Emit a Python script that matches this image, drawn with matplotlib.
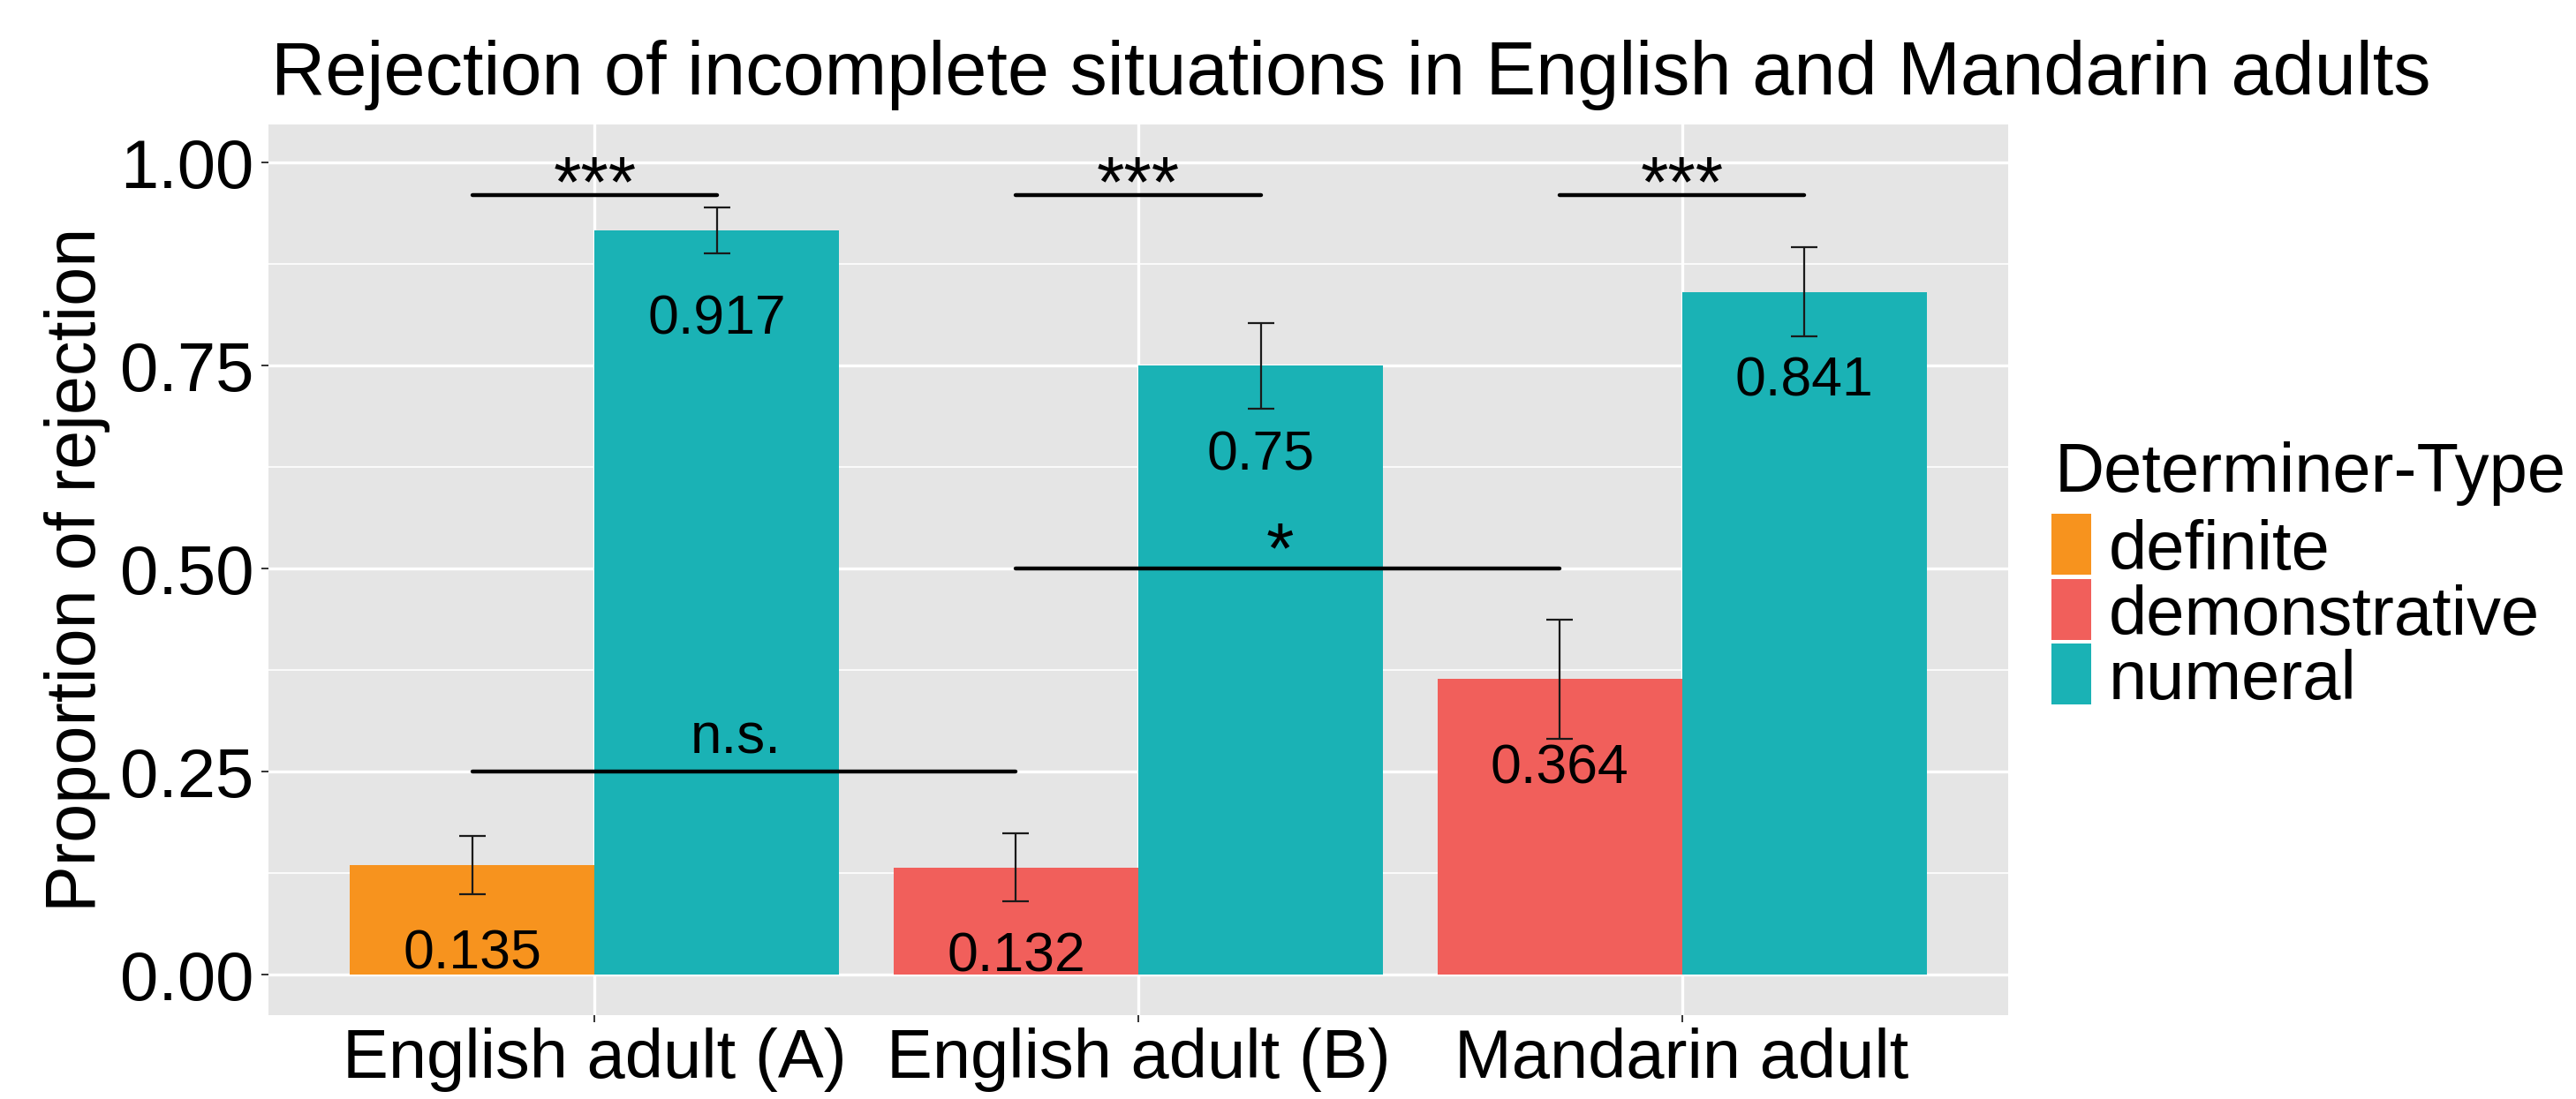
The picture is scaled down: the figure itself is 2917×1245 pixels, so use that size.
import matplotlib
matplotlib.use("Agg")
import matplotlib.pyplot as plt
from matplotlib.patches import Rectangle
import numpy as np

plt.rcParams['font.family'] = ['Liberation Sans', 'DejaVu Sans']

# ---------------- data ----------------
groups = ["English adult (A)", "English adult (B)", "Mandarin adult"]
det_types = ["definite", "demonstrative", "numeral"]
type_colors = ["#F7931E", "#F15F5B", "#1AB2B5"]

first_type = ["definite", "demonstrative", "demonstrative"]
first_vals = [0.135, 0.132, 0.364]
first_err = [0.036, 0.042, 0.073]
first_labels = ["0.135", "0.132", "0.364"]

numeral_vals = [0.917, 0.75, 0.841]
numeral_err = [0.028, 0.053, 0.055]
numeral_labels = ["0.917", "0.75", "0.841"]

within_sig = ["***", "***", "***"]
within_sig_y = 0.96
between_sig = ["n.s.", "*"]
between_sig_y = [0.25, 0.50]

yticks = [0.00, 0.25, 0.50, 0.75, 1.00]
ytick_labels = ["0.00", "0.25", "0.50", "0.75", "1.00"]

title = "Rejection of incomplete situations in English and Mandarin adults"
ylabel = "Proportion of rejection"
legend_title = "Determiner-Type"

# ---------------- figure ----------------
W, H = 2917, 1245
fig = plt.figure(figsize=(W / 100, H / 100), dpi=100)
ax = fig.add_axes([304 / W, 1 - 1150 / H, (2274 - 304) / W, (1150 - 141) / H])
ax.set_facecolor("#E5E5E5")
for s in ax.spines.values():
    s.set_visible(False)

color_of = dict(zip(det_types, type_colors))
x = np.arange(1, len(groups) + 1)
bw = 0.45

ax.bar(x - bw / 2, first_vals, width=bw, color=[color_of[t] for t in first_type], zorder=2)
ax.bar(x + bw / 2, numeral_vals, width=bw, color=color_of["numeral"], zorder=2)

ekw = dict(fmt="none", ecolor="#1a1a1a", elinewidth=1.6, capsize=11, capthick=1.6, zorder=3)
ax.errorbar(x - bw / 2, first_vals, yerr=first_err, **ekw)
ax.errorbar(x + bw / 2, numeral_vals, yerr=numeral_err, **ekw)

for xi, v, lab in zip(x - bw / 2, first_vals, first_labels):
    ax.text(xi, v - 0.128, lab, ha="center", va="baseline", fontsize=45, zorder=4)
for xi, v, lab in zip(x + bw / 2, numeral_vals, numeral_labels):
    ax.text(xi, v - 0.128, lab, ha="center", va="baseline", fontsize=45, zorder=4)

# significance: within group (first bar vs numeral)
for xi, lab in zip(x, within_sig):
    ax.plot([xi - bw / 2, xi + bw / 2], [within_sig_y, within_sig_y], color="black",
            lw=3.2, solid_capstyle="round", zorder=4)
    ax.text(xi, within_sig_y - 0.0133, lab, ha="center", va="baseline", fontsize=58, zorder=4)

# significance: between neighbouring groups' first bars
for k, (lab, yv) in enumerate(zip(between_sig, between_sig_y)):
    x0 = x[k] - bw / 2
    x1 = x[k + 1] - bw / 2
    ax.plot([x0, x1], [yv, yv], color="black", lw=3.2, solid_capstyle="round", zorder=4)
    if lab == "*":
        ax.text((x0 + x1) / 2 - 0.015, yv - 0.0043, lab, ha="center", va="baseline",
                fontsize=58, zorder=4)
    else:
        ax.text((x0 + x1) / 2 - 0.015, yv + 0.023, lab, ha="center", va="baseline",
                fontsize=46, zorder=4)

ax.set_xlim(0.4, 3.6)
ax.set_ylim(-0.0497, 1.0472)
ax.set_yticks(yticks)
ax.set_yticklabels(ytick_labels)
ax.set_yticks([0.125, 0.375, 0.625, 0.875], minor=True)
ax.set_xticks(x)
ax.set_xticklabels(groups)
ax.grid(which="major", color="white", lw=2.4)
ax.grid(which="minor", axis="y", color="white", lw=1.2)
ax.set_axisbelow(True)
ax.tick_params(axis="both", which="major", length=5.8, width=1.4, color="#333333",
               labelsize=56, labelcolor="black")
ax.tick_params(axis="y", which="major", pad=6)
ax.tick_params(axis="x", which="major", pad=4)
ax.tick_params(which="minor", length=0)

fig.text(108 / W, 1 - 645.5 / H, ylabel, rotation=90, rotation_mode="anchor",
         ha="center", va="baseline", fontsize=57)
fig.text(307 / W, 1 - 107 / H, title, ha="left", va="baseline", fontsize=61)

# ---------------- legend ----------------
fig.text(2327 / W, 1 - 557 / H, legend_title, ha="left", va="baseline", fontsize=56)
key_left, key_w, key_h, pitch, top0 = 2323, 45, 69, 73.5, 582
for i, (t, c) in enumerate(zip(det_types, type_colors)):
    top = top0 + i * pitch
    fig.add_artist(Rectangle((key_left / W, 1 - (top + key_h) / H), key_w / W, key_h / H,
                             transform=fig.transFigure, facecolor=c, edgecolor="none"))
    fig.text(2388 / W, 1 - (top + 63) / H, t, ha="left", va="baseline", fontsize=56)

fig.savefig("out.png", dpi=100)
